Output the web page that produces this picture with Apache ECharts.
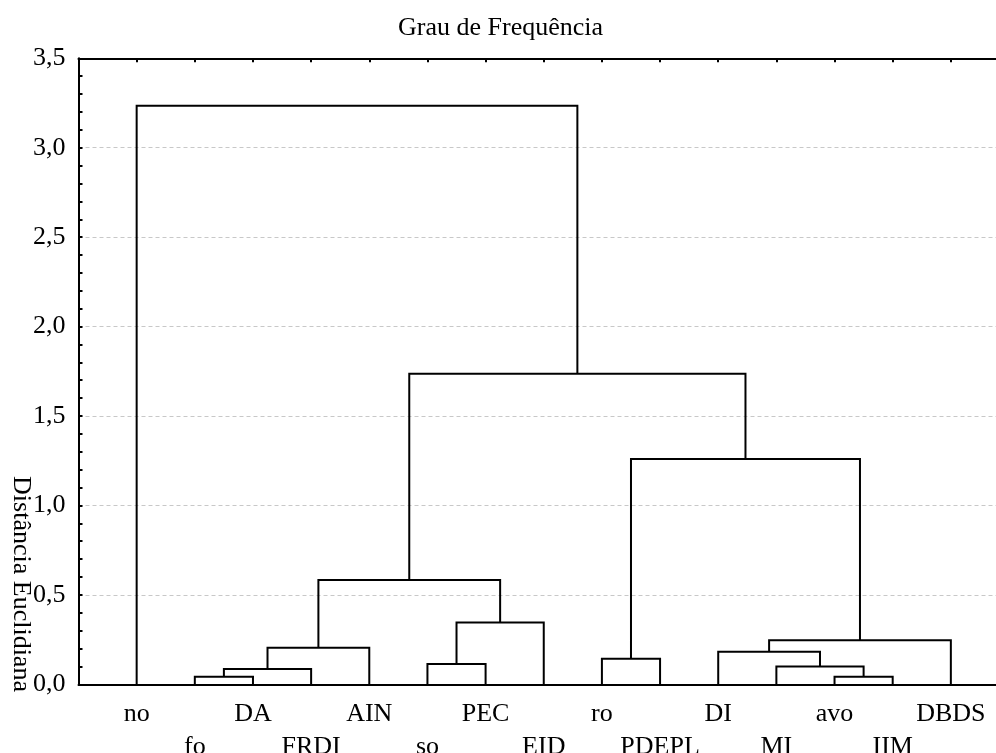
<!DOCTYPE html>
<html>
<head>
<meta charset="utf-8">
<script src="https://cdn.jsdelivr.net/npm/echarts@6/dist/echarts.min.js"></script>
<style>
  html, body { margin: 0; padding: 0; background: #fff; }
  #chart { width: 996px; height: 753px; }
</style>
</head>
<body>
<div id="chart"></div>
<script>
// leaves in drawing order
const leaves = ['no', 'fo', 'DA', 'FRDI', 'AIN', 'so', 'PEC', 'EID', 'ro', 'PDEPL', 'DI', 'MI', 'avo', 'IIM', 'DBDS'];
// merges: cluster ids 0..14 are leaves, each merge makes a new id (15, 16, ...)
const mergeA = [1, 12, 15, 11, 5, 8, 10, 17, 21, 19, 22, 20, 25, 0];
const mergeB = [2, 13, 3, 16, 6, 9, 18, 4, 14, 7, 24, 23, 26, 27];
const mergeHeight = [0.042, 0.042, 0.086, 0.100, 0.114, 0.143, 0.182, 0.205, 0.246, 0.345, 0.583, 1.260, 1.737, 3.235];

const font = "'Times New Roman', 'Liberation Serif', serif";

// build link list from the merges
let pos = leaves.map((l, i) => i);
let hgt = leaves.map(() => 0);
let links = [];
mergeA.forEach((a, k) => {
    let b = mergeB[k];
    let h = mergeHeight[k];
    links.push([pos[a], hgt[a], pos[b], hgt[b], h]);
    pos.push((pos[a] + pos[b]) / 2);
    hgt.push(h);
});

let chart = echarts.init(document.getElementById('chart'));
let option = {
    animation: false,
    backgroundColor: '#fff',
    title: {
        text: 'Grau de Frequência',
        left: 398,
        top: 15,
        padding: 0,
        textStyle: { fontFamily: font, fontSize: 26, fontWeight: 'normal', color: '#000' }
    },
    graphic: [{
        type: 'text',
        x: 21,
        y: 584,
        rotation: -Math.PI / 2,
        style: {
            text: 'Distância Euclidiana',
            font: '26px ' + font,
            fill: '#000',
            align: 'center',
            verticalAlign: 'middle'
        }
    }],
    grid: {
        left: 78.5,
        top: 58.3,
        width: 930.5,
        height: 626,
        outerBoundsMode: 'none'
    },
    xAxis: [{
        type: 'value',
        min: -1,
        max: 15,
        interval: 1,
        position: 'bottom',
        splitLine: { show: false },
        axisTick: { show: false },
        axisLine: { onZero: false, lineStyle: { color: '#000', width: 2 } },
        axisLabel: {
            margin: 13,
            fontFamily: font,
            fontSize: 26,
            lineHeight: 33,
            color: '#000',
            formatter: function (v) {
                let i = Math.round(v);
                if (i < 0 || i >= leaves.length) return '';
                return i % 2 ? '\n' + leaves[i] : leaves[i];
            }
        }
    }, {
        type: 'value',
        min: -1,
        max: 15,
        interval: 1,
        position: 'top',
        splitLine: { show: false },
        axisTick: { inside: true, length: 4, lineStyle: { color: '#000', width: 2 } },
        axisLine: { onZero: false, lineStyle: { color: '#000', width: 2 } },
        axisLabel: { show: false }
    }],
    yAxis: {
        type: 'value',
        min: 0,
        max: 3.5,
        interval: 0.5,
        axisLine: { show: true, onZero: false, lineStyle: { color: '#000', width: 2 } },
        axisTick: { show: true, inside: true, length: 4, lineStyle: { color: '#000', width: 2 } },
        minorTick: { show: true, splitNumber: 5, length: 4, lineStyle: { color: '#000', width: 2 } },
        splitLine: { show: true, lineStyle: { color: '#c8c8c8', width: 1, type: [4, 3] } },
        axisLabel: {
            margin: 13,
            fontFamily: font,
            fontSize: 26,
            color: '#000',
            formatter: v => v.toFixed(1).replace('.', ',')
        }
    },
    series: [{
        type: 'custom',
        silent: true,
        clip: false,
        data: links,
        encode: { x: [0, 2], y: [1, 3, 4] },
        renderItem: function (params, api) {
            let p1 = api.coord([api.value(0), api.value(1)]);
            let p2 = api.coord([api.value(0), api.value(4)]);
            let p3 = api.coord([api.value(2), api.value(4)]);
            let p4 = api.coord([api.value(2), api.value(3)]);
            return {
                type: 'polyline',
                shape: { points: [p1, p2, p3, p4] },
                style: { stroke: '#000', lineWidth: 2, fill: 'none' }
            };
        }
    }]
};
chart.setOption(option);
</script>
</body>
</html>
